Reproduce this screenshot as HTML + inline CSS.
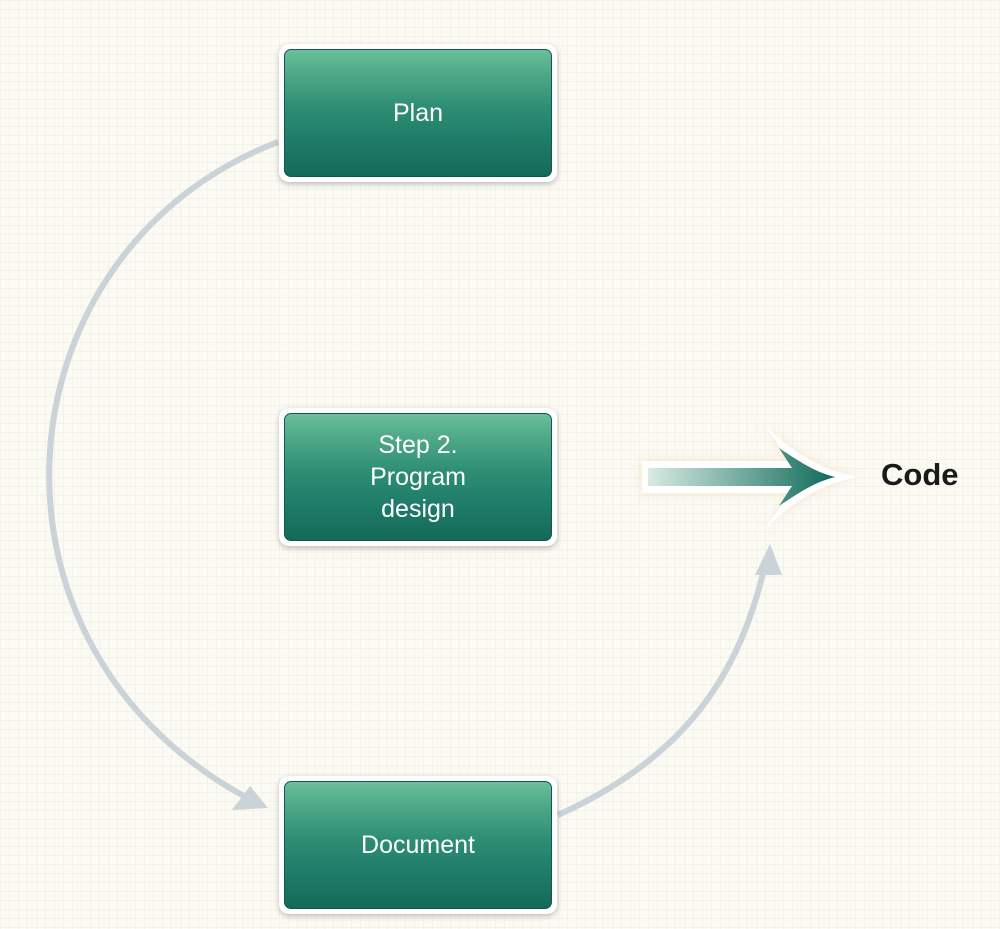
<!DOCTYPE html>
<html><head><style>
html,body{margin:0;padding:0}
body{width:1000px;height:929px;position:relative;overflow:hidden;background:#fbfaf3;
background-image:linear-gradient(rgba(225,222,205,.25) 1px,transparent 1px),linear-gradient(90deg,rgba(225,222,205,.25) 1px,transparent 1px);background-size:9px 9px;font-family:"Liberation Sans",sans-serif}
.box{position:absolute;left:279px;width:278px;height:138px;background:#fff;border-radius:10px;box-shadow:0 2px 6px rgba(0,0,0,.25)}
.in{position:absolute;left:5px;top:5px;right:5px;bottom:5px;border-radius:7px;border:1.5px solid #0d5a4c;
background:linear-gradient(#6cc099 0%,#58b08c 12%,#2e8e74 45%,#1d7a66 75%,#16695a 100%);color:#fff;display:flex;align-items:center;justify-content:center;text-align:center;font-size:25px;line-height:32px}
</style></head><body>
<svg width="1000" height="929" style="position:absolute;left:0;top:0">
<defs>
<linearGradient id="g" x1="0" x2="1"><stop offset="0" stop-color="#d8ebe3"/><stop offset="1" stop-color="#0f6a5a"/></linearGradient>
<filter id="sh" x="-20%" y="-30%" width="140%" height="160%"><feGaussianBlur stdDeviation="5"/></filter>
</defs>
<path d="M278,142 C-5,250 -40,650 255,802" fill="none" stroke="#c9d3d8" stroke-width="6"/>
<polygon points="268,808 232,810 250,786" fill="#c9d3d8"/>
<path d="M558,815 C680,760 740,680 766,560" fill="none" stroke="#c9d3d8" stroke-width="6"/>
<polygon points="770,544 755,575 782,575" fill="#c9d3d8"/>
<path d="M642,461 L790,461 L764,424 C790,450 820,470 858,477 C820,484 790,504 764,530 L790,493 L642,493 Z" fill="#f0d9b0" opacity=".6" filter="url(#sh)"/>
<path d="M642,461 L790,461 L764,424 C790,450 820,470 858,477 C820,484 790,504 764,530 L790,493 L642,493 Z" fill="#fff"/>
<path d="M648,468 L792,468 L779,448 C800,462 815,472 835,477 C815,482 800,492 779,506 L792,486 L648,486 Z" fill="url(#g)"/>
</svg>
<div class="box" style="top:44px"><div class="in">Plan</div></div>
<div class="box" style="top:408px"><div class="in">Step 2.<br>Program<br>design</div></div>
<div class="box" style="top:776px"><div class="in">Document</div></div>
<div style="position:absolute;left:881px;top:457px;font-size:31px;font-weight:bold;color:#1a1a1a">Code</div>
</body></html>
